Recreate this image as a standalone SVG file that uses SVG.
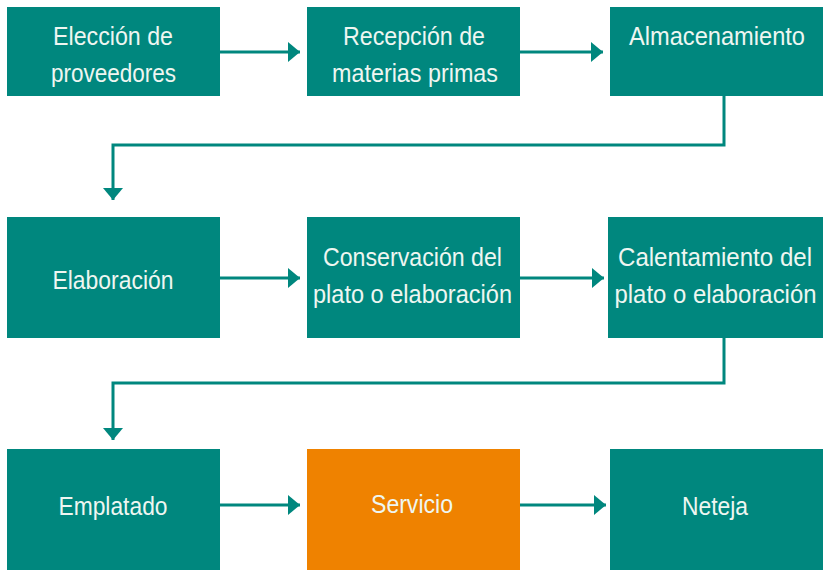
<svg xmlns="http://www.w3.org/2000/svg" width="827" height="570" viewBox="0 0 827 570">
<defs>
<style>
.box{fill:#00877E}
.orange{fill:#EF8200}
.t{font-family:"Liberation Sans",Arial,sans-serif;font-size:26px;fill:#EEF6F1;text-anchor:middle}
.c{fill:none;stroke:#00877E;stroke-width:3}
</style>
<marker id="ah" viewBox="0 0 12 20" refX="12" refY="10" markerWidth="12" markerHeight="20" markerUnits="userSpaceOnUse" orient="auto">
<path d="M0,0 L12,10 L0,20 Z" fill="#00877E"/>
</marker>
</defs>
<rect width="827" height="570" fill="#fff"/>
<g id="connectors">
<path class="c" d="M220,52 H300" marker-end="url(#ah)"/>
<path class="c" d="M520,52 H603" marker-end="url(#ah)"/>
<path class="c" d="M724,96 V145 H113 V200" marker-end="url(#ah)"/>
<path class="c" d="M220,278 H300" marker-end="url(#ah)"/>
<path class="c" d="M520,278 H604" marker-end="url(#ah)"/>
<path class="c" d="M724,338 V383 H113 V440" marker-end="url(#ah)"/>
<path class="c" d="M220,505 H300" marker-end="url(#ah)"/>
<path class="c" d="M520,505 H606" marker-end="url(#ah)"/>
</g>
<g id="n1"><rect class="box" x="7" y="7" width="213" height="89"/>
<text class="t" x="113" y="45" textLength="120" lengthAdjust="spacingAndGlyphs">Elección de</text>
<text class="t" x="113.5" y="82" textLength="125" lengthAdjust="spacingAndGlyphs">proveedores</text></g>
<g id="n2"><rect class="box" x="307" y="7" width="213" height="89"/>
<text class="t" x="414" y="45" textLength="142" lengthAdjust="spacingAndGlyphs">Recepción de</text>
<text class="t" x="415" y="82" textLength="166" lengthAdjust="spacingAndGlyphs">materias primas</text></g>
<g id="n3"><rect class="box" x="610" y="7" width="213" height="89"/>
<text class="t" x="717" y="45" textLength="176" lengthAdjust="spacingAndGlyphs">Almacenamiento</text></g>
<g id="n4"><rect class="box" x="7" y="217" width="213" height="121"/>
<text class="t" x="113" y="289" textLength="121" lengthAdjust="spacingAndGlyphs">Elaboración</text></g>
<g id="n5"><rect class="box" x="307" y="217" width="213" height="121"/>
<text class="t" x="412.5" y="266" textLength="179" lengthAdjust="spacingAndGlyphs">Conservación del</text>
<text class="t" x="412.5" y="303" textLength="199" lengthAdjust="spacingAndGlyphs">plato o elaboración</text></g>
<g id="n6"><rect class="box" x="608" y="217" width="215" height="121"/>
<text class="t" x="715" y="266" textLength="194" lengthAdjust="spacingAndGlyphs">Calentamiento del</text>
<text class="t" x="715.5" y="303" textLength="202" lengthAdjust="spacingAndGlyphs">plato o elaboración</text></g>
<g id="n7"><rect class="box" x="7" y="449" width="213" height="121"/>
<text class="t" x="113" y="515" textLength="109" lengthAdjust="spacingAndGlyphs">Emplatado</text></g>
<g id="n8"><rect class="orange" x="307" y="449" width="213" height="121"/>
<text class="t" x="412" y="513" textLength="82" lengthAdjust="spacingAndGlyphs">Servicio</text></g>
<g id="n9"><rect class="box" x="610" y="449" width="213" height="121"/>
<text class="t" x="715" y="515" textLength="66" lengthAdjust="spacingAndGlyphs">Neteja</text></g>
</svg>
